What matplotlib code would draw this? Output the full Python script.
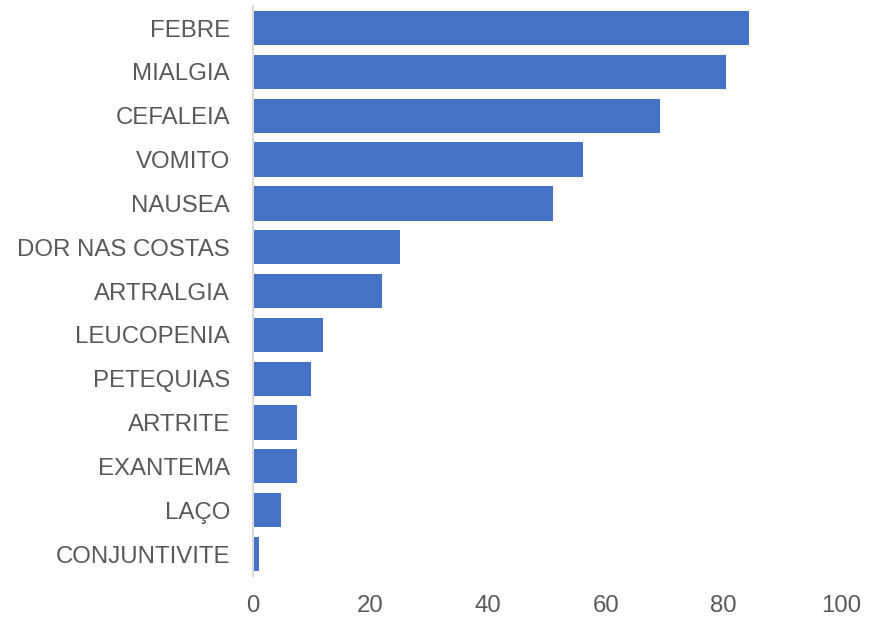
import matplotlib
matplotlib.use("Agg")
import matplotlib.pyplot as plt

# data
sintomas = ["FEBRE", "MIALGIA", "CEFALEIA", "VOMITO", "NAUSEA", "DOR NAS COSTAS",
            "ARTRALGIA", "LEUCOPENIA", "PETEQUIAS", "ARTRITE", "EXANTEMA", "LAÇO",
            "CONJUNTIVITE"]
valores = [84.4, 80.4, 69.2, 56.1, 51.0, 25.0, 21.9, 11.9, 9.9, 7.5, 7.5, 4.8, 1.0]
x_ticks = [0, 20, 40, 60, 80, 100]

plt.rcParams['font.family'] = ['Liberation Sans', 'DejaVu Sans']

fig = plt.figure(figsize=(8.69, 6.18), dpi=100)
ax = fig.add_axes([0.291, 0.068, 0.677, 0.922])

pos = list(range(len(sintomas)))
ax.barh(pos, valores, height=0.78, color="#4472C4")
ax.set_ylim(len(sintomas) - 0.5, -0.5)
ax.set_xlim(0, 100)
ax.set_yticks(pos)
ax.set_yticklabels(sintomas)
ax.set_xticks(x_ticks)

for s in ["top", "right", "bottom"]:
    ax.spines[s].set_visible(False)
ax.spines["left"].set_color("#d9d9d9")
ax.spines["left"].set_linewidth(1.5)
ax.tick_params(axis="both", length=0, labelsize=17.3, colors="#595959")
ax.tick_params(axis="y", pad=16.5)
ax.tick_params(axis="x", pad=14)

fig.savefig("out.png", dpi=100)
